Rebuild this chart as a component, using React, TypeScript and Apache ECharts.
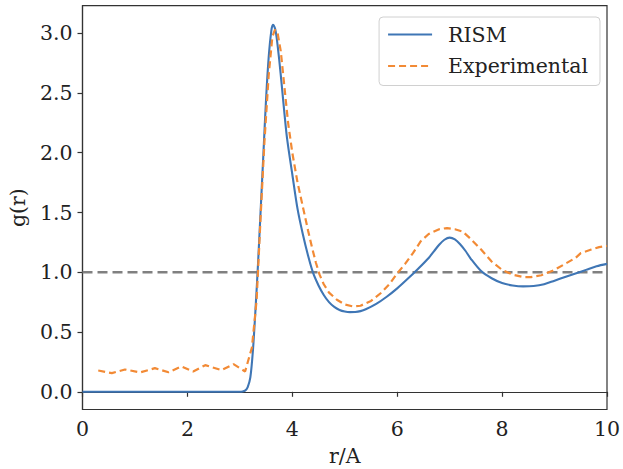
import React, { useEffect, useRef } from "react";
import * as echarts from "echarts";

const rismR = [0, 0.5, 1, 1.5, 2, 2.5, 3, 3.05, 3.1, 3.15, 3.2, 3.25, 3.3, 3.35, 3.4, 3.45, 3.5, 3.55, 3.6, 3.63, 3.67, 3.7, 3.75, 3.8, 3.85, 3.9, 4.0, 4.1, 4.2, 4.3, 4.4, 4.5, 4.6, 4.7, 4.8, 4.9, 5.0, 5.1, 5.2, 5.3, 5.4, 5.6, 5.8, 6.0, 6.2, 6.4, 6.6, 6.7, 6.8, 6.9, 7.0, 7.1, 7.2, 7.3, 7.4, 7.6, 7.8, 8.0, 8.2, 8.4, 8.6, 8.8, 9.0, 9.2, 9.4, 9.6, 9.8, 10.0];
const rismG = [0, 0, 0, 0, 0, 0, 0, 0.002, 0.01, 0.04, 0.12, 0.35, 0.7, 1.1, 1.55, 2.0, 2.45, 2.8, 3.02, 3.07, 3.04, 2.97, 2.78, 2.56, 2.33, 2.12, 1.82, 1.53, 1.32, 1.14, 0.99, 0.89, 0.81, 0.75, 0.71, 0.685, 0.672, 0.667, 0.668, 0.675, 0.69, 0.735, 0.795, 0.865, 0.945, 1.03, 1.12, 1.175, 1.23, 1.272, 1.29, 1.275, 1.235, 1.18, 1.115, 1.01, 0.95, 0.91, 0.89, 0.882, 0.885, 0.9, 0.93, 0.96, 0.99, 1.02, 1.05, 1.07];

const expR = [0.3, 0.56, 0.81, 1.1, 1.38, 1.64, 1.89, 2.11, 2.34, 2.65, 2.88, 3.1, 3.23, 3.32, 3.4, 3.47, 3.55, 3.62, 3.67, 3.72, 3.78, 3.85, 3.92, 4.0, 4.1, 4.2, 4.3, 4.38, 4.45, 4.52, 4.6, 4.7, 4.85, 5.0, 5.15, 5.3, 5.5, 5.7, 5.85, 6.0, 6.15, 6.3, 6.45, 6.6, 6.8, 6.95, 7.1, 7.25, 7.4, 7.6, 7.8, 8.0, 8.2, 8.4, 8.55, 8.75, 9.0, 9.2, 9.4, 9.5, 9.7, 9.85, 10.0];
const expG = [0.178, 0.156, 0.187, 0.162, 0.198, 0.164, 0.212, 0.17, 0.223, 0.181, 0.231, 0.17, 0.37, 0.77, 1.5, 2.1, 2.65, 2.97, 3.03, 3.0, 2.85, 2.55, 2.25, 2.0, 1.75, 1.55, 1.35, 1.2, 1.08, 0.98, 0.9, 0.83, 0.77, 0.73, 0.715, 0.72, 0.76, 0.83, 0.9, 0.99, 1.07, 1.16, 1.26, 1.32, 1.36, 1.37, 1.36, 1.34, 1.28, 1.19, 1.09, 1.02, 0.98, 0.96, 0.96, 0.975, 1.02, 1.07, 1.12, 1.16, 1.19, 1.21, 1.22];

const refR = [0, 10];
const refG = [1, 1];

const xTicks = [0, 2, 4, 6, 8, 10];
const yTicks = [0, 0.5, 1.0, 1.5, 2.0, 2.5, 3.0];

const FONT = "DejaVu Serif";
const FS = 20.5;

export default function App() {
  const ref = useRef<HTMLDivElement>(null);
  useEffect(() => {
    if (!ref.current) return;
    const chart = echarts.init(ref.current, null, { renderer: "svg" });
    const zip = (a: number[], b: number[]) => a.map((v, i) => [v, b[i]]);
    chart.setOption({
      animation: false,
      backgroundColor: "#ffffff",
      grid: {
        left: 82.5,
        right: 16,
        top: 5.7,
        bottom: 59.5,
        show: true,
        borderColor: "#333333",
        borderWidth: 1.2,
        containLabel: false,
        outerBoundsMode: "none",
      },
      legend: {
        show: true,
        orient: "vertical",
        right: 23,
        top: 17,
        itemWidth: 44,
        itemHeight: 14,
        itemGap: 10.5,
        padding: [7, 12, 9, 8],
        borderColor: "#d0d0d0",
        borderWidth: 1,
        borderRadius: 4,
        backgroundColor: "rgba(255,255,255,0.85)",
        itemStyle: { opacity: 0 },
        textStyle: { fontFamily: FONT, fontSize: FS, color: "#222", padding: [0, 0, 0, 11] },
        data: ["RISM", "Experimental"],
      },
      xAxis: {
        type: "value",
        min: 0,
        max: 10,
        interval: 2,
        name: "r/A",
        nameLocation: "middle",
        nameGap: 36,
        nameTextStyle: { fontFamily: FONT, fontSize: FS, color: "#222" },
        axisLine: { show: true, lineStyle: { color: "#333", width: 1.2 } },
        axisTick: { show: true, length: 5, lineStyle: { color: "#333", width: 1.2 }, customValues: xTicks },
        axisLabel: {
          fontFamily: FONT,
          fontSize: FS,
          color: "#222",
          margin: 9,
          customValues: xTicks,
          formatter: (v: number) => String(v),
        },
        splitLine: { show: false },
      },
      yAxis: {
        type: "value",
        min: -0.148,
        max: 3.23,
        name: "g(r)",
        nameLocation: "middle",
        nameRotate: 90,
        nameGap: 50,
        nameTextStyle: { fontFamily: FONT, fontSize: FS, color: "#222" },
        axisLine: { show: true, lineStyle: { color: "#333", width: 1.2 } },
        axisTick: { show: true, length: 5, lineStyle: { color: "#333", width: 1.2 }, customValues: yTicks },
        axisLabel: {
          fontFamily: FONT,
          fontSize: FS,
          color: "#222",
          margin: 10,
          customValues: yTicks,
          formatter: (v: number) => v.toFixed(1),
        },
        splitLine: { show: false },
      },
      series: [
        {
          name: "RISM",
          type: "line",
          data: zip(rismR, rismG),
          symbol: "none",
          smooth: 0.3,
          lineStyle: { color: "#3f76b5", width: 2.1 },
          itemStyle: { color: "#3f76b5" },
          z: 3,
        },
        {
          name: "Experimental",
          type: "line",
          data: zip(expR, expG),
          symbol: "none",
          lineStyle: { color: "#f28a35", width: 2.2, type: [7, 4] },
          itemStyle: { color: "#f28a35" },
          z: 3,
        },
        {
          name: "ref",
          type: "line",
          data: zip(refR, refG),
          symbol: "none",
          lineStyle: { color: "#808080", width: 2.6, type: [10, 5] },
          itemStyle: { color: "#808080" },
          z: 2,
          silent: true,
        },
      ],
    });
    return () => chart.dispose();
  }, []);
  return (
    <div
      ref={ref}
      style={{ position: "fixed", left: 0, top: 0, width: 623, height: 469 }}
    />
  );
}
